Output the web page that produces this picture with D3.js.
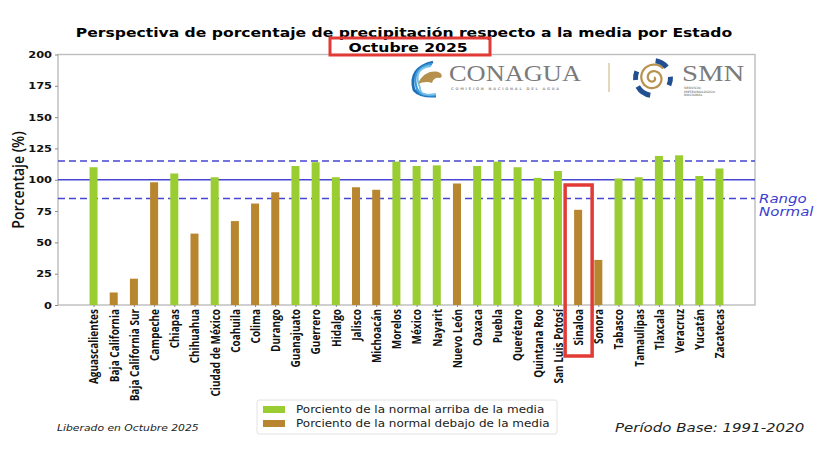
<!DOCTYPE html>
<html>
<head>
<meta charset="utf-8">
<script src="https://cdn.jsdelivr.net/npm/d3@7"></script>
<style>
  body { margin: 0; background: #fff; }
  svg { display: block; }
</style>
</head>
<body>
<div id="chart"></div>
<script>
// data
const estados = [
  "Aguascalientes", "Baja California", "Baja California Sur", "Campeche", "Chiapas",
  "Chihuahua", "Ciudad de México", "Coahuila", "Colima", "Durango", "Guanajuato",
  "Guerrero", "Hidalgo", "Jalisco", "Michoacán", "Morelos", "México", "Nayarit",
  "Nuevo León", "Oaxaca", "Puebla", "Querétaro", "Quintana Roo", "San Luis Potosí",
  "Sinaloa", "Sonora", "Tabasco", "Tamaulipas", "Tlaxcala", "Veracruz", "Yucatán", "Zacatecas"
];
const porcentajes = [
  110, 10, 21, 98, 105, 57, 102, 67, 81, 90, 111,
  114, 102, 94, 92, 114.5, 111, 111.5, 97, 111, 114.5,
  110, 101.5, 107, 76, 36, 101, 102, 119, 119.5, 103, 109
];
const media = 100;
const rangoNormal = [85, 115];
const yTicks = [0, 25, 50, 75, 100, 125, 150, 175, 200];
const leyenda = [
  "Porciento de la normal arriba de la media",
  "Porciento de la normal debajo de la media"
];

const width = 830, height = 455;
const margin = { top: 54.5, right: 75, bottom: 150, left: 58 };
const SX = 1.2; // the reference is stretched sideways, so text is too
const verde = "#9acd32", cafe = "#b8862e", azul = "#4646d2";

const svg = d3.select("#chart").append("svg")
  .attr("width", width).attr("height", height);

const x = d3.scalePoint()
  .domain(estados)
  .range([margin.left, width - margin.right])
  .padding(1.76);
const y = d3.scaleLinear()
  .domain([0, 200])
  .range([height - margin.bottom, margin.top]);
const color = d3.scaleThreshold().domain([media]).range([cafe, verde]);

// title
svg.append("text")
  .attr("transform", `translate(404,37) scale(${SX},1)`)
  .attr("text-anchor", "middle")
  .style("font", "bold 13px 'DejaVu Sans'")
  .text("Perspectiva de porcentaje de precipitación respecto a la media por Estado");
svg.append("text")
  .attr("transform", `translate(408,51.5) scale(${SX},1)`)
  .attr("text-anchor", "middle")
  .style("font", "bold 13px 'DejaVu Sans'")
  .text("Octubre 2025");

// plot frame
svg.append("rect")
  .attr("x", margin.left).attr("y", margin.top)
  .attr("width", width - margin.left - margin.right)
  .attr("height", y(0) - margin.top)
  .attr("fill", "none").attr("stroke", "#bdbdbd").attr("stroke-width", 1.4);

// logos
const logo = svg.append("g");
const blues = ["#1d6fb8", "#3b9ad9", "#78c1ea"];
[[0, 15], [1, 12], [2, 9]].forEach(([i, r]) => {
  logo.append("path")
    .attr("d", `M${433 - i},${62 + i * 2} Q${408 + i * 2},${68} ${414 + i * 3},${90 - i} Q${420},${97} ${436},${96 - i}`)
    .attr("fill", "none").attr("stroke", blues[i]).attr("stroke-width", 2.8 - i * 0.5);
});
logo.append("path")
  .attr("d", "M418,84 C421,75 430,70 438,72 C442,73 443,77 440,78 C436,77 433,79 432,83 C428,81 422,82 418,84 Z")
  .attr("fill", "#b6904d");
logo.append("text")
  .attr("transform", `translate(449,81) scale(1.1,1)`)
  .style("font", "24px 'Liberation Serif'").attr("fill", "#7b7b7b")
  .text("CONAGUA");
logo.append("text")
  .attr("x", 451).attr("y", 90)
  .style("font", "bold 3.6px 'DejaVu Sans'").attr("fill", "#999")
  .attr("textLength", 108)
  .text("COMISIÓN NACIONAL DEL AGUA");
logo.append("line")
  .attr("x1", 609).attr("x2", 609).attr("y1", 63).attr("y2", 92)
  .attr("stroke", "#dccaa6").attr("stroke-width", 1.5);

// SMN mark: gold spiral with blue gear pieces
const cx = 653, cy = 78;
const spiral = d3.range(0, 4 * Math.PI, 0.2).map(t => [t + 1, 1.2 + t * 1.05]);
logo.append("path")
  .attr("transform", `translate(${cx},${cy})`)
  .attr("d", d3.lineRadial().curve(d3.curveCatmullRom)(spiral))
  .attr("fill", "none").attr("stroke", "#b8924c").attr("stroke-width", 2.2);
const gear = d3.arc().innerRadius(15).outerRadius(20);
[[0.15, 0.9], [1.5, 2.0], [3.3, 4.2], [4.6, 5.1]].forEach(([a0, a1]) => {
  logo.append("path")
    .attr("transform", `translate(${cx},${cy})`)
    .attr("d", gear({ startAngle: a0, endAngle: a1 }))
    .attr("fill", "#214f8f");
});
logo.append("text")
  .attr("transform", `translate(682,81) scale(1.2,1)`)
  .style("font", "24px 'Liberation Serif'").attr("fill", "#7b7b7b")
  .text("SMN");
["SERVICIO", "METEOROLÓGICO", "NACIONAL"].forEach((t, i) => {
  logo.append("text")
    .attr("x", 684).attr("y", 89 + i * 3.6)
    .style("font", "bold 3.2px 'DejaVu Sans'").attr("fill", "#999")
    .text(t);
});

// reference lines
svg.append("line")
  .attr("x1", margin.left).attr("x2", width - margin.right)
  .attr("y1", y(media)).attr("y2", y(media))
  .attr("stroke", azul).attr("stroke-width", 1.5);
svg.selectAll(".rango")
  .data(rangoNormal)
  .join("line")
  .attr("class", "rango")
  .attr("x1", margin.left).attr("x2", width - margin.right)
  .attr("y1", d => y(d)).attr("y2", d => y(d))
  .attr("stroke", azul).attr("stroke-width", 1.6)
  .attr("stroke-dasharray", "7,4");

// bars
const barW = 8;
svg.selectAll(".bar")
  .data(estados.map((e, i) => ({ estado: e, valor: porcentajes[i] })))
  .join("rect")
  .attr("class", "bar")
  .attr("x", d => x(d.estado) - barW / 2)
  .attr("y", d => y(d.valor))
  .attr("width", barW)
  .attr("height", d => y(0) - y(d.valor))
  .attr("fill", d => color(d.valor));

// y axis
const yAxis = svg.append("g")
  .attr("transform", `translate(${margin.left},0)`)
  .call(d3.axisLeft(y).tickValues(yTicks).tickSize(3).tickPadding(2));
yAxis.select(".domain").remove();
yAxis.selectAll(".tick line").attr("stroke", "#888");
yAxis.selectAll(".tick text")
  .attr("transform", `scale(${SX},1)`)
  .style("font", "bold 9.5px 'DejaVu Sans'").attr("fill", "#111");

svg.append("text")
  .attr("transform", `translate(24,180) scale(${SX},1) rotate(-90)`)
  .attr("text-anchor", "middle")
  .style("font", "600 14px 'Open Sans'").attr("fill", "#111")
  .text("Porcentaje (%)");

// x axis
const xAxis = svg.append("g")
  .attr("transform", `translate(0,${y(0)})`)
  .call(d3.axisBottom(x).tickSize(2));
xAxis.select(".domain").remove();
xAxis.selectAll(".tick line").attr("stroke", "#888");
xAxis.selectAll(".tick text")
  .attr("x", 0).attr("y", 0).attr("dy", "0.36em")
  .attr("text-anchor", "end")
  .attr("transform", `translate(0,4) scale(${SX},1) rotate(-90)`)
  .style("font", "bold 10px 'Open Sans'").attr("fill", "#111");

// rango normal label
["Rango", "Normal"].forEach((t, i) => {
  svg.append("text")
    .attr("transform", `translate(759,${203 + i * 13}) scale(${SX},1)`)
    .style("font", "italic 12.5px 'DejaVu Sans'").attr("fill", "#3c3cd0")
    .text(t);
});

// legend
const leg = svg.append("g");
leg.append("rect")
  .attr("x", 257).attr("y", 400).attr("width", 300).attr("height", 34).attr("rx", 2)
  .attr("fill", "#fff").attr("stroke", "#e2e2e2");
leg.selectAll(".sw")
  .data(leyenda)
  .join("rect")
  .attr("class", "sw")
  .attr("x", 263).attr("y", (d, i) => 406 + i * 14)
  .attr("width", 22).attr("height", 7)
  .attr("fill", (d, i) => i === 0 ? verde : cafe);
leg.selectAll(".lt")
  .data(leyenda)
  .join("text")
  .attr("class", "lt")
  .attr("transform", (d, i) => `translate(296,${413 + i * 14}) scale(${SX},1)`)
  .style("font", "10px 'DejaVu Sans'").attr("fill", "#222")
  .text(d => d);

// footer
svg.append("text")
  .attr("transform", `translate(57,431) scale(${SX},1)`)
  .style("font", "italic 9px 'DejaVu Sans'").attr("fill", "#222")
  .text("Liberado en Octubre 2025");
svg.append("text")
  .attr("transform", `translate(615,432) scale(${SX},1)`)
  .style("font", "italic 12.5px 'DejaVu Sans'").attr("fill", "#222")
  .text("Período Base: 1991-2020");

// red highlight boxes from the reference
svg.append("rect")
  .attr("x", 330).attr("y", 38).attr("width", 160).attr("height", 17)
  .attr("fill", "none").attr("stroke", "#e23b36").attr("stroke-width", 3);
svg.append("rect")
  .attr("x", x("Sinaloa") - 13).attr("y", 185).attr("width", 27).attr("height", 171)
  .attr("fill", "none").attr("stroke", "#e23b36").attr("stroke-width", 3.5);
</script>
</body>
</html>
